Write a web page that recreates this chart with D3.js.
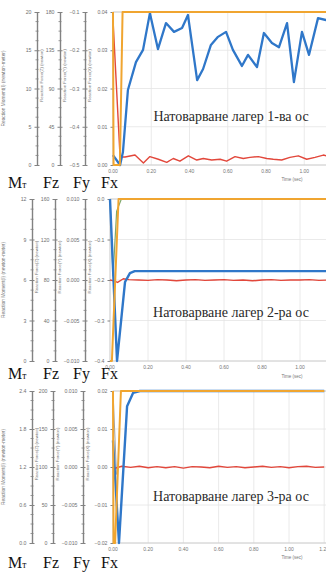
<!DOCTYPE html>
<html>
<head>
<meta charset="utf-8">
<script src="https://cdn.jsdelivr.net/npm/d3@7"></script>
<style>
  body { margin: 0; background: #fff; }
  svg { display: block; }
</style>
</head>
<body>
<svg id="chart" width="326" height="572"></svg>
<script>
// ---- data ----
const timeTicks = [0, 0.2, 0.4, 0.6, 0.8, 1.0, 1.2];
const captions = ['Натоварване лагер 1-ва ос', 'Натоварване лагер 2-ра ос', 'Натоварване лагер 3-ра ос'];
const axisTitles = ['Reaction Moment(I) (newton-meter)', 'Reaction Force(Z) (newton)', 'Reaction Force(Y) (newton)', 'Reaction Force(X) (newton)'];

const momentTicks = [[0, 5, 10, 15, 20], [0, 3, 6, 9, 12], [0, 0.6, 1.2, 1.8, 2.4]];
const fzTicks = [[0, 45, 90, 135, 180], [0, 40, 80, 120, 160], [0, 50, 100, 150, 200]];
const fyTicks = [[-0.5, -0.4, -0.3, -0.2, -0.1], [-0.01, -0.005, 0, 0.005, 0.01], [-0.01, -0.005, 0, 0.005, 0.01]];
const fxTicks = [[0, 0.01, 0.02, 0.03, 0.04], [-0.4, -0.3, -0.2, -0.1, 0], [-0.02, -0.01, 0, 0.01, 0.02]];
const tickFormats = [['d', 'd', '.1f', '.2f'], ['d', 'd', '.3f', '.1f'], ['.1f', 'd', '.3f', '.2f']];

// panel 1 (values on the Fx axis)
const p1BlueT = [0, 0.037, 0.052, 0.078, 0.12, 0.157, 0.193, 0.235, 0.277, 0.319, 0.361, 0.392, 0.44, 0.471, 0.512, 0.549, 0.591, 0.627, 0.674, 0.706, 0.753, 0.789, 0.831, 0.868, 0.91, 0.946, 0.988, 1.025, 1.072, 1.114, 1.16];
const p1BlueV = [0.0026, 0, 0.0034, 0.0196, 0.0269, 0.0301, 0.0397, 0.0303, 0.0371, 0.0348, 0.0358, 0.0392, 0.0222, 0.0251, 0.0314, 0.0335, 0.0348, 0.0301, 0.0259, 0.0288, 0.0256, 0.0345, 0.0319, 0.0308, 0.0371, 0.0217, 0.0348, 0.0288, 0.0384, 0.0379, 0.037];
const p1RedT = [0, 0.037, 0.063, 0.115, 0.159, 0.193, 0.237, 0.281, 0.315, 0.35, 0.394, 0.438, 0.472, 0.516, 0.56, 0.594, 0.638, 0.681, 0.716, 0.76, 0.804, 0.838, 0.882, 0.925, 0.969, 1.013, 1.056, 1.1, 1.15];
const p1RedV = [0.038, 0.0021, 0.0021, 0.0026, 0.0005, 0.0022, 0.0015, 0.0007, 0.0017, 0.001, 0.0024, 0.0013, 0.0017, 0.0013, 0.0015, 0.001, 0.0022, 0.0017, 0.002, 0.0022, 0.0017, 0.0015, 0.0013, 0.002, 0.0024, 0.0015, 0.002, 0.0026, 0.002];
const p1OrangeT = [0, 0.003, 0.036, 0.05, 1.2];
const p1OrangeV = [0.04, 0, 0, 0.04, 0.04];

// panel 2
const p2BlueT = [0, 0.037, 0.079, 0.105, 0.13, 1.2];
const p2BlueV = [0, -0.4, -0.205, -0.183, -0.178, -0.178];
const p2RedT = [0, 0.02, 0.04, 0.07, 0.1, 0.15, 0.2, 0.25, 0.3, 0.35, 0.4, 0.45, 0.5, 0.55, 0.6, 0.65, 0.7, 0.75, 0.8, 0.85, 0.9, 0.95, 1.0, 1.05, 1.1, 1.15, 1.2];
const p2RedV = [-0.2, -0.202, -0.206, -0.197, -0.199, -0.2, -0.201, -0.199, -0.2, -0.202, -0.2, -0.199, -0.201, -0.2, -0.199, -0.201, -0.2, -0.202, -0.2, -0.199, -0.201, -0.2, -0.2, -0.199, -0.201, -0.2, -0.201];
const p2GreenT = [0, 0.016, 0.035, 0.06, 1.2];
const p2GreenV = [0, -0.19, -0.03, 0, 0];
const p2OrangeT = [0, 0.01, 0.045, 1.2];
const p2OrangeV = [-0.4, -0.4, 0, 0];

// panel 3
const p3BlueT = [0, 0.034, 0.08, 0.114, 0.153, 1.2];
const p3BlueV = [0.007, -0.02, 0.016, 0.0195, 0.02, 0.02];
const p3RedT = [0, 0.05, 0.1, 0.15, 0.2, 0.25, 0.3, 0.35, 0.4, 0.45, 0.5, 0.55, 0.6, 0.65, 0.7, 0.75, 0.8, 0.85, 0.9, 0.95, 1.0, 1.05, 1.1, 1.15, 1.2];
const p3RedV = [-0.0005, 0.0002, -0.0001, 0.0002, -0.0002, 0.0001, -0.0002, 0.0001, -0.0003, 0.0001, 0, -0.0002, 0.0002, -0.0001, 0.0001, -0.0002, 0, 0.0002, -0.0001, 0.0001, -0.0002, 0.0001, 0.0002, -0.0001, 0];
const p3GreyT = [0, 0.02];
const p3GreyV = [0.02, -0.002];
const p3OrangeT = [0, 0.003, 0.012, 0.045, 1.2];
const p3OrangeV = [0.02, -0.02, -0.02, 0.02, 0.02];

const series = [
  [
    { t: p1RedT, v: p1RedV, color: '#e2473b', w: 1.4 },
    { t: p1BlueT, v: p1BlueV, color: '#2f77c9', w: 2.3 },
    { t: p1OrangeT, v: p1OrangeV, color: '#f0a530', w: 2 }
  ],
  [
    { t: p2GreenT, v: p2GreenV, color: '#7fa86a', w: 1.2 },
    { t: p2RedT, v: p2RedV, color: '#e2473b', w: 1.4 },
    { t: p2BlueT, v: p2BlueV, color: '#2f77c9', w: 2.4 },
    { t: p2OrangeT, v: p2OrangeV, color: '#f0a530', w: 2 }
  ],
  [
    { t: p3GreyT, v: p3GreyV, color: '#a0a0a0', w: 1 },
    { t: p3RedT, v: p3RedV, color: '#e2473b', w: 1.4 },
    { t: p3BlueT, v: p3BlueV, color: '#2f77c9', w: 2.4 },
    { t: p3OrangeT, v: p3OrangeV, color: '#f0a530', w: 2 }
  ]
];

// ---- layout ----
const layout = [
  { top: 12, bottom: 165, left: 113, secPx: 191.25, axisX: [37, 60, 85], namesY: 188, capY: 121, tickY: 173, timeY: 181 },
  { top: 199, bottom: 361, left: 110, secPx: 190, axisX: [32, 55, 85], namesY: 379, capY: 317, tickY: 369, timeY: 378 },
  { top: 391, bottom: 543, left: 113, secPx: 176, axisX: [32, 53, 83], namesY: 568, capY: 501, tickY: 551, timeY: 559 }
];

const svg = d3.select('#chart');
const W = 326;

layout.forEach((L, p) => {
  const g = svg.append('g');
  const x = d3.scaleLinear().domain([0, 1]).range([L.left, L.left + L.secPx]);
  const tickSets = [momentTicks[p], fzTicks[p], fyTicks[p], fxTicks[p]];
  const scales = tickSets.map(tk => d3.scaleLinear().domain(d3.extent(tk)).range([L.bottom, L.top]));
  const yFx = scales[3];

  // grid
  const grid = g.append('g');
  grid.selectAll('.h').data(fxTicks[p]).enter().append('line')
    .attr('x1', L.left).attr('x2', W)
    .attr('y1', d => yFx(d)).attr('y2', d => yFx(d))
    .attr('stroke', '#e4e4e4').attr('stroke-width', 0.8);
  grid.selectAll('.v').data(timeTicks).enter().append('line')
    .attr('x1', d => x(d)).attr('x2', d => x(d))
    .attr('y1', L.top).attr('y2', L.bottom)
    .attr('stroke', '#e4e4e4').attr('stroke-width', 0.8);
  g.append('rect').attr('x', L.left).attr('y', L.top)
    .attr('width', W - L.left + 5).attr('height', L.bottom - L.top)
    .attr('fill', 'none').attr('stroke', '#c8c8c8').attr('stroke-width', 0.8);

  // x tick labels
  g.selectAll('.xt').data(timeTicks).enter().append('text')
    .attr('x', d => x(d)).attr('y', L.tickY)
    .attr('text-anchor', 'middle')
    .attr('font-family', 'Liberation Sans, Arial, sans-serif')
    .attr('font-size', 5).attr('fill', '#777')
    .text(d3.format('.2f'));
  g.append('text').attr('x', 292).attr('y', L.timeY)
    .attr('text-anchor', 'middle')
    .attr('font-family', 'Liberation Sans, Arial, sans-serif')
    .attr('font-size', 4.5).attr('fill', '#777')
    .text('Time (sec)');

  // y axes
  const axisXs = [L.axisX[0], L.axisX[1], L.axisX[2], L.left];
  tickSets.forEach((tk, i) => {
    const ax = g.append('g').attr('transform', `translate(${axisXs[i]},0)`)
      .call(d3.axisLeft(scales[i]).tickValues(tk).tickFormat(d3.format(tickFormats[p][i]))
        .tickSizeInner(2.5).tickSizeOuter(0).tickPadding(3));
    ax.select('.domain').attr('stroke', i === 3 ? 'none' : '#828282').attr('stroke-width', 1.4);
    ax.selectAll('.tick line').attr('stroke', '#828282');
    ax.selectAll('.tick text').attr('font-size', 5.2).attr('fill', '#707070')
      .attr('font-family', 'Liberation Sans, Arial, sans-serif');
    if (i < 3) {
      ax.selectAll('.tick').append('line').attr('x1', 0).attr('x2', 2.5).attr('stroke', '#828282');
      const minors = [];
      for (let k = 0; k < tk.length - 1; k++) {
        for (let m = 1; m < 4; m++) minors.push(tk[k] + (tk[k + 1] - tk[k]) * m / 4);
      }
      ax.selectAll('.minor').data(minors).enter().append('line')
        .attr('x1', -1.5).attr('x2', 1.5)
        .attr('y1', d => scales[i](d)).attr('y2', d => scales[i](d))
        .attr('stroke', '#828282').attr('stroke-width', 0.8);
    }
  });

  // axis titles
  const mid = (L.top + L.bottom) / 2;
  const titleX = [5, L.axisX[0] + 6, L.axisX[1] + 6, L.axisX[2] + 6];
  const titleY = [mid, mid - 13, mid - 13, mid - 13];
  axisTitles.forEach((t, i) => {
    g.append('text')
      .attr('transform', `translate(${titleX[i]},${titleY[i]}) rotate(-90)`)
      .attr('text-anchor', 'middle')
      .attr('font-family', 'Liberation Sans, Arial, sans-serif')
      .attr('font-size', i === 0 ? 4.8 : 4.3).attr('fill', '#777')
      .text(t);
  });

  // lines
  const clipId = 'clip' + p;
  svg.append('clipPath').attr('id', clipId).append('rect')
    .attr('x', L.left - 2).attr('y', L.top - 2)
    .attr('width', W - L.left + 4).attr('height', L.bottom - L.top + 4);
  const lines = g.append('g').attr('clip-path', `url(#${clipId})`);
  const line = d3.line().x(d => x(d[0])).y(d => yFx(d[1]));
  series[p].forEach(s => {
    lines.append('path')
      .attr('d', line(d3.zip(s.t, s.v)))
      .attr('fill', 'none').attr('stroke', s.color)
      .attr('stroke-width', s.w).attr('stroke-linejoin', 'round');
  });

  // caption
  g.append('text').attr('x', 231).attr('y', L.capY)
    .attr('text-anchor', 'middle')
    .attr('font-family', 'Liberation Serif, Times New Roman, serif')
    .attr('font-size', 14).attr('fill', '#2a2a2a')
    .text(captions[p]);

  // bottom axis names
  const nameX = [8, 43, 73, 101];
  const names = g.append('g')
    .attr('font-family', 'Liberation Serif, Times New Roman, serif')
    .attr('font-size', 16).attr('fill', '#111');
  const mt = names.append('text').attr('x', nameX[0]).attr('y', L.namesY);
  mt.append('tspan').text('M');
  mt.append('tspan').attr('font-size', 9.5).text('т');
  ['Fz', 'Fy', 'Fx'].forEach((n, i) => {
    names.append('text').attr('x', nameX[i + 1]).attr('y', L.namesY).text(n);
  });
});
</script>
</body>
</html>
